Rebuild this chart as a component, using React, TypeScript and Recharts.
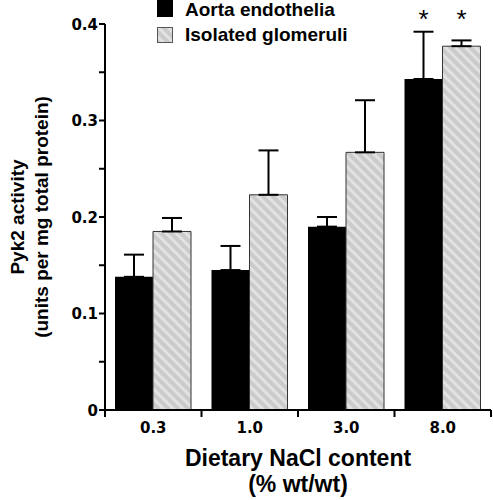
import { Bar, BarChart, ErrorBar, Label, LabelList, XAxis, YAxis } from "recharts";

const doses = ["0.3", "1.0", "3.0", "8.0"];
const seriesNames = ["Aorta endothelia", "Isolated glomeruli"];
const aortaValues = [0.138, 0.145, 0.19, 0.343];
const aortaErrors = [0.023, 0.025, 0.01, 0.049];
const glomValues = [0.185, 0.223, 0.267, 0.377];
const glomErrors = [0.014, 0.046, 0.054, 0.006];
const significant = [false, false, false, true];
const yTicks = [0, 0.05, 0.1, 0.15, 0.2, 0.25, 0.3, 0.35, 0.4];
const edgeTicks = [0, 0.5, 1, 1.5, 2, 2.5, 3, 3.5, 4];
const STAR_LEVEL = 0.41;

const LABEL_FONT = "'Liberation Sans', Arial, Helvetica, sans-serif";
const TICK_FONT = "'DejaVu Sans', sans-serif";

const data = doses.map((dose, i) => ({
  dose,
  pos: i + 0.5,
  aorta: aortaValues[i],
  aortaErr: [0, aortaErrors[i]],
  glom: glomValues[i],
  glomErr: [0, glomErrors[i]],
  star: significant[i] ? "*" : "",
}));

function HatchPattern({ id }: { id: string }) {
  return (
    <pattern id={id} width={7} height={7} patternUnits="userSpaceOnUse" patternTransform="rotate(-45)">
      <rect width={7} height={7} fill="#cbcbcb" />
      <rect width={3} height={7} fill="#e2e2e2" />
    </pattern>
  );
}

function YTick(props: any) {
  const { x, y, payload } = props;
  const v = payload.value;
  const major = Math.round(v * 100) % 10 === 0;
  if (!major) return null;
  return (
    <text x={x} y={y + 5.5} textAnchor="end" fontFamily={TICK_FONT} fontWeight="bold" fontSize={15} fill="#000">
      {v === 0 ? "0" : v.toFixed(1)}
    </text>
  );
}

function EdgeTick(props: any) {
  const { x, y, payload } = props;
  const v = payload.value;
  if (Number.isInteger(v)) {
    return <line x1={x} y1={y} x2={x} y2={y + 7} stroke="#000" strokeWidth={2} />;
  }
  return (
    <text x={x} y={y + 23} textAnchor="middle" fontFamily={TICK_FONT} fontWeight="bold" fontSize={15} fill="#000">
      {doses[Math.floor(v)]}
    </text>
  );
}

function starContent(values: number[]) {
  return (props: any) => {
    const { x, y, width, height, value, index } = props;
    if (!value) return null;
    const perUnit = height / values[index];
    const levelY = y + height - STAR_LEVEL * perUnit;
    return (
      <text x={x + width / 2} y={levelY + 14} textAnchor="middle" fontFamily={LABEL_FONT} fontSize={26} fill="#000">
        {value}
      </text>
    );
  };
}

function Legend() {
  return (
    <svg width={493} height={50} style={{ position: "absolute", left: 0, top: 0, pointerEvents: "none" }}>
      <defs>
        <HatchPattern id="hatchLegend" />
      </defs>
      <rect x={157} y={0} width={16} height={17} fill="#000" />
      <text x={185} y={16} fontFamily={LABEL_FONT} fontWeight="bold" fontSize={19} fill="#000">
        {seriesNames[0]}
      </text>
      <rect x={157.5} y={27.5} width={15} height={15} fill="url(#hatchLegend)" stroke="#555" strokeWidth={1} />
      <text x={185} y={41} fontFamily={LABEL_FONT} fontWeight="bold" fontSize={19} fill="#000">
        {seriesNames[1]}
      </text>
    </svg>
  );
}

export default function App() {
  return (
    <div style={{ position: "absolute", left: 0, top: 0, width: 493, height: 500, background: "#fff" }}>
      <BarChart
        width={493}
        height={500}
        data={data}
        margin={{ top: 24, right: 2, left: 0, bottom: 0 }}
        barCategoryGap={10}
        barGap={0}
      >
        <defs>
          <HatchPattern id="hatch" />
        </defs>
        <XAxis
          xAxisId="edge"
          dataKey="pos"
          type="number"
          domain={[0, 4]}
          ticks={edgeTicks}
          interval={0}
          tickLine={false}
          tickSize={0}
          tickMargin={0}
          axisLine={{ stroke: "#000", strokeWidth: 2 }}
          tick={<EdgeTick />}
          height={90}
        >
          <Label
            content={(props: any) => {
              const vb = props.viewBox;
              const cx = vb.x + vb.width / 2;
              return (
                <text textAnchor="middle" fontFamily={LABEL_FONT} fontWeight="bold" fontSize={23} fill="#000">
                  <tspan x={cx} y={vb.y + 56}>Dietary NaCl content</tspan>
                  <tspan x={cx} y={vb.y + 82}>(% wt/wt)</tspan>
                </text>
              );
            }}
          />
        </XAxis>
        <XAxis xAxisId="cat" dataKey="dose" hide height={0} />
        <YAxis
          domain={[0, 0.4]}
          ticks={yTicks}
          interval={0}
          width={105}
          tickSize={6}
          tickMargin={1}
          axisLine={{ stroke: "#000", strokeWidth: 2 }}
          tickLine={{ stroke: "#000", strokeWidth: 2 }}
          tick={<YTick />}
        >
          <Label
            content={(props: any) => {
              const vb = props.viewBox;
              const cy = vb.y + vb.height / 2;
              return (
                <text
                  transform={`translate(0, ${cy}) rotate(-90)`}
                  textAnchor="middle"
                  fontFamily={LABEL_FONT}
                  fontWeight="bold"
                  fontSize={19}
                  fill="#000"
                >
                  <tspan x={0} y={24}>Pyk2 activity</tspan>
                  <tspan x={0} y={48}>(units per mg total protein)</tspan>
                </text>
              );
            }}
          />
        </YAxis>
        <Bar xAxisId="cat" dataKey="aorta" name={seriesNames[0]} fill="#000" isAnimationActive={false}>
          <ErrorBar dataKey="aortaErr" direction="y" width={10} stroke="#000" strokeWidth={2} />
          <LabelList dataKey="star" content={starContent(aortaValues)} />
        </Bar>
        <Bar
          xAxisId="cat"
          dataKey="glom"
          name={seriesNames[1]}
          fill="url(#hatch)"
          stroke="#333"
          strokeWidth={1}
          isAnimationActive={false}
        >
          <ErrorBar dataKey="glomErr" direction="y" width={10} stroke="#000" strokeWidth={2} />
          <LabelList dataKey="star" content={starContent(glomValues)} />
        </Bar>
      </BarChart>
      <Legend />
    </div>
  );
}
